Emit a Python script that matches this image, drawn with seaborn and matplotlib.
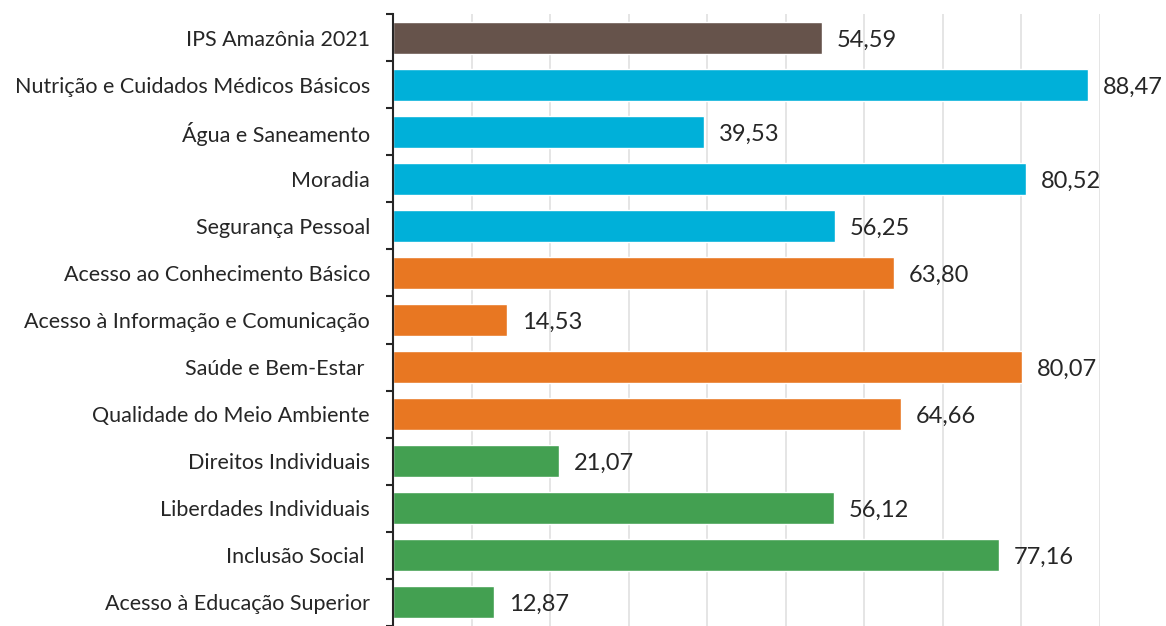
import numpy as np
import pandas as pd
import seaborn as sns
import matplotlib.pyplot as plt
from matplotlib.ticker import FixedLocator

categories = [
    "IPS Amazônia 2021",
    "Nutrição e Cuidados Médicos Básicos",
    "Água e Saneamento",
    "Moradia",
    "Segurança Pessoal",
    "Acesso ao Conhecimento Básico",
    "Acesso à Informação e Comunicação",
    "Saúde e Bem-Estar ",
    "Qualidade do Meio Ambiente",
    "Direitos Individuais",
    "Liberdades Individuais",
    "Inclusão Social ",
    "Acesso à Educação Superior",
]
values = [54.59, 88.47, 39.53, 80.52, 56.25, 63.80, 14.53, 80.07, 64.66,
          21.07, 56.12, 77.16, 12.87]
groups = ["geral"] + ["basicas"] * 4 + ["bem_estar"] * 4 + ["oportunidades"] * 4
palette = {"geral": "#66534B", "basicas": "#00B0D9",
           "bem_estar": "#E87722", "oportunidades": "#43A051"}

df = pd.DataFrame({"cat": categories, "val": values, "grp": groups})

sns.set_theme(style="white")
plt.rcParams['font.family'] = ['Lato', 'DejaVu Sans']

fig = plt.figure(figsize=(11.66, 6.26), dpi=100)
ax = fig.add_axes([393 / 1166, 0.0, (1100 - 393) / 1166, 1 - 14 / 626])

sns.barplot(data=df, y="cat", x="val", hue="grp", palette=palette,
            dodge=False, width=0.68, legend=False, ax=ax, saturation=1)

ax.set_xlim(0, 90)
ax.set_ylim(len(categories) - 0.5, -0.5)
ax.set_xticks(np.arange(10, 91, 10))
ax.set_xticklabels([])
ax.tick_params(axis="x", length=0)
ax.grid(axis="x", color="#e3e3e3", lw=1.3)
ax.set_axisbelow(True)

# tick marks sit between the bars
ax.yaxis.set_minor_locator(FixedLocator(np.arange(-0.5, len(categories), 1)))
ax.tick_params(axis="y", which="major", length=0, pad=16.5, labelsize=15.5,
               labelcolor="#262626")
ax.tick_params(axis="y", which="minor", length=5, width=1.5, color="#262626",
               direction="out", left=True)
ax.set_xlabel("")
ax.set_ylabel("")

for s in ["top", "right", "bottom"]:
    ax.spines[s].set_visible(False)
ax.spines["left"].set_color("#262626")
ax.spines["left"].set_linewidth(1.5)

for i, v in enumerate(values):
    ax.text(v + 1.9, i + 0.05, f"{v:.2f}".replace(".", ","), va="center",
            ha="left", fontsize=17, color="#262626", clip_on=False)

fig.savefig("out.png", dpi=100)
